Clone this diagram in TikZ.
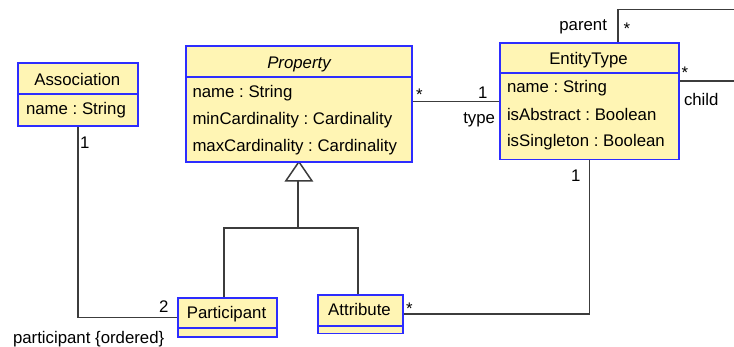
\documentclass[tikz,border=0pt]{standalone}
\usepackage{fontspec}
\setmainfont{Liberation Sans}
\frenchspacing
\definecolor{umlfill}{RGB}{255,245,180}
\definecolor{umlblue}{RGB}{45,45,255}
\definecolor{conncol}{RGB}{60,60,60}
\tikzset{
  umlbox/.style={draw=umlblue, fill=umlfill, line width=1.8pt, inner sep=0pt},
  divider/.style={draw=umlblue, line width=1.8pt},
  conn/.style={draw=conncol, line width=1.5pt},
  txt/.style={inner sep=0pt, outer sep=0pt, text=black},
}
\begin{document}
\frenchspacing
\begin{tikzpicture}[x=1pt, y=-1pt, font=\fontsize{16.8}{20}\selectfont]
\useasboundingbox (0,0) rectangle (734,347);
\clip (0,0) rectangle (734,347);

% helper coordinates
\coordinate (gj) at (298,228);
\coordinate (gb) at (298,180);
\coordinate (sl) at (618,9.3);
\coordinate (sr) at (745,9.3);
\coordinate (sb) at (745,81);
\coordinate (pe) at (0,101.7);

% boxes
\node[umlbox, anchor=north west, minimum width=118.5pt, minimum height=61pt] (assoc) at (18,63) {};
\node[umlbox, anchor=north west, minimum width=224pt, minimum height=114.3pt] (prop) at (186,45.7) {};
\node[umlbox, anchor=north west, minimum width=177pt, minimum height=115pt] (ent) at (500,42.7) {};
\node[umlbox, anchor=north west, minimum width=97pt, minimum height=37pt] (part) at (178,298) {};
\node[umlbox, anchor=north west, minimum width=83pt, minimum height=36.7pt] (attr) at (318,295) {};

% connectors
\draw[conn] (assoc.south) |- (part.west);
\draw[conn] (prop.south) -- ++(-13,19) -- ++(26,0) -- cycle;
\draw[conn] (gb) -- (gj);
\draw[conn] (part.north -| 224,0) |- (gj) -| (attr.north -| 358,0);
\draw[conn] (prop.east |- pe) -- (ent.west |- pe);
\draw[conn] (ent.north -| sl) -- (sl) -- (sr) -- (sb) -- (ent.east |- sb);
\draw[conn] (ent.south) |- (attr.east);

% redraw boxes on top
\draw[umlbox] (assoc.north west) rectangle (assoc.south east);
\draw[umlbox] (prop.north west) rectangle (prop.south east);
\draw[umlbox] (ent.north west) rectangle (ent.south east);
\draw[umlbox] (part.north west) rectangle (part.south east);
\draw[umlbox] (attr.north west) rectangle (attr.south east);

% dividers
\draw[divider] (assoc.west |- 0,94) -- (assoc.east |- 0,94);
\draw[divider] (prop.west |- 0,76.7) -- (prop.east |- 0,76.7);
\draw[divider] (ent.west |- 0,72.7) -- (ent.east |- 0,72.7);
\draw[divider] (part.west |- 0,328) -- (part.east |- 0,328);
\draw[divider] (attr.west |- 0,325.7) -- (attr.east |- 0,325.7);

% box texts
\node[txt, anchor=base] (tassoc) at (77.3,85.7) {Association};
\node[txt, anchor=base west] (tassocn) at (26,115) {name : String};

\node[txt, anchor=base] (tprop) at (299,68.2) {\itshape Property};
\node[txt, anchor=base west] (tprop1) at (192.5,98) {name : String};
\node[txt, anchor=base west] (tprop2) at (192.5,125) {minCardinality : Cardinality};
\node[txt, anchor=base west] (tprop3) at (192.5,151.5) {maxCardinality : Cardinality};

\node[txt, anchor=base] (tent) at (588.5,64.5) {EntityType};
\node[txt, anchor=base west] (tent1) at (507,93) {name : String};
\node[txt, anchor=base west] (tent2) at (507,120.5) {isAbstract : Boolean};
\node[txt, anchor=base west] (tent3) at (507,147) {isSingleton : Boolean};

\node[txt, anchor=base] (tpart) at (226.5,319) {Participant};
\node[txt, anchor=base] (tattr) at (359.5,316) {Attribute};

% association end labels
\node[txt, anchor=base west] (l1a) at (80,149) {1};
\node[txt, anchor=base east] (l2) at (168.5,313) {2};
\node[txt, anchor=base west] (lpo) at (13,344) {participant \{ordered\}};
\node[txt, anchor=base west] (lstarA) at (406,315) {*};
\node[txt, anchor=base west] (lstarP) at (416,100.5) {*};
\node[txt, anchor=base east] (l1e) at (580.5,181.7) {1};
\node[txt, anchor=base east] (l1t) at (487.5,99) {1};
\node[txt, anchor=base east] (ltype) at (495,124) {type};
\node[txt, anchor=base east] (lparent) at (607,31) {parent};
\node[txt, anchor=base west] (lstarT) at (623.5,35) {*};
\node[txt, anchor=base west] (lstarC) at (681.5,79) {*};
\node[txt, anchor=base west] (lchild) at (684,106) {child};
\end{tikzpicture}
\end{document}
